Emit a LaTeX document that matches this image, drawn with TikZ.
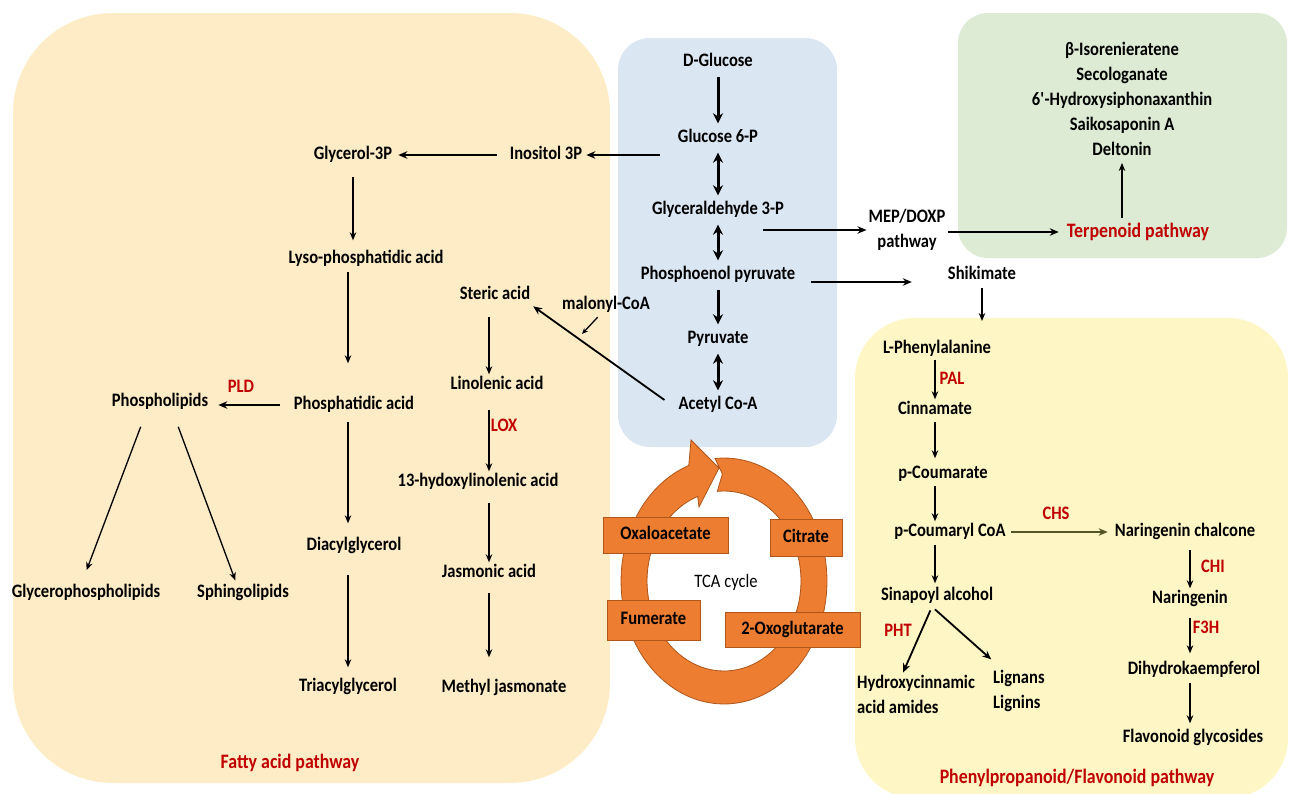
\documentclass[tikz,border=0pt]{standalone}
\usepackage{fontspec}
\setmainfont{Carlito}[FakeStretch=0.87]
\usetikzlibrary{arrows.meta, calc, positioning}
\definecolor{fattyfill}{RGB}{253,236,197}
\definecolor{glycofill}{RGB}{219,230,243}
\definecolor{terpfill}{RGB}{221,235,212}
\definecolor{phenylfill}{RGB}{254,246,196}
\definecolor{enzred}{RGB}{192,0,0}
\definecolor{tcaorange}{RGB}{237,125,49}
\definecolor{tcaedge}{RGB}{175,85,25}
\definecolor{chsolive}{RGB}{84,84,38}

\begin{document}
\begin{tikzpicture}[x=1pt, y=-1pt,
  every node/.style={font=\fontsize{19}{21}\selectfont\bfseries, inner sep=2pt},
  met/.style={text height=13pt, text depth=4pt},
  multi/.style={font=\fontsize{19}{25}\selectfont\bfseries},
  enz/.style={met, text=enzred},
  pathtitle/.style={text=enzred, font=\fontsize{20.5}{23}\selectfont\bfseries},
  arr/.style={-{Stealth[length=8pt, width=6.5pt]}, line width=1.3pt},
  midarr/.style={-{Stealth[length=9pt, width=7.5pt]}, line width=1.8pt},
  bigarr/.style={-{Stealth[length=10pt, width=10pt]}, line width=3pt, shorten <=4pt, shorten >=4pt},
  twoway/.style={bigarr, {Stealth[length=10pt, width=10pt]}-{Stealth[length=10pt, width=10pt]}},
  tcabox/.style={met, fill=tcaorange, draw=tcaedge, line width=0.6pt, inner sep=0pt}
]
\useasboundingbox (0,0) rectangle (1290,793);

% Background panels
\fill[fattyfill, rounded corners=100pt] (13,13) rectangle (610,783);
\fill[glycofill, rounded corners=32pt] (618,38) rectangle (837,447);
\fill[terpfill, rounded corners=30pt] (958,13) rectangle (1287,258);
\fill[phenylfill, rounded corners=60pt] (855,318) rectangle (1288,798);

% TCA cycle
\fill[tcaorange, draw=tcaedge, line width=0.8pt]
  plot[domain=-95:250, samples=90] ({724+103*cos(\x)}, {581+123*sin(\x)})
  -- (691,440) -- (719,468) -- (699,507)
  -- plot[domain=250:-95, samples=90] ({724+77*cos(\x)}, {581+90*sin(\x)})
  -- (722.4,474) -- cycle;
\node[tcabox, minimum width=125pt, minimum height=36pt] (oxa) at (665.5,535) {Oxaloacetate};
\node[tcabox, minimum width=72pt, minimum height=37pt] (cit) at (806,538) {Citrate};
\node[tcabox, minimum width=93pt, minimum height=40pt] (fum) at (653.5,620) {Fumerate};
\node[tcabox, minimum width=135pt, minimum height=35pt] (oxg) at (792.5,629.5) {2-Oxoglutarate};
\node[font=\fontsize{19}{21}\selectfont] (tca) at (726,582) {TCA cycle};

% Glycolysis
\node[met] (glc) at (718,62) {D-Glucose};
\node[met] (g6p) at (718,138) {Glucose 6-P};
\node[met] (gap) at (718,210) {Glyceraldehyde 3-P};
\node[met] (pep) at (718,275) {Phosphoenol pyruvate};
\node[met] (pyr) at (718,339) {Pyruvate};
\node[met] (aca) at (718,405) {Acetyl Co-A};

% Fatty acid pathway
\node[met] (ino) at (546,155) {Inositol 3P};
\node[met] (g3p) at (353,155) {Glycerol-3P};
\node[met] (lpa) at (366,259) {Lyso-phosphatidic acid};
\node[met] (pa) at (354,405) {Phosphatidic acid};
\node[met] (phl) at (160,402) {Phospholipids};
\node[met] (gpl) at (86,593) {Glycerophospholipids};
\node[met] (sph) at (243,593) {Sphingolipids};
\node[met] (dag) at (354,546) {Diacylglycerol};
\node[met] (tag) at (348,687) {Triacylglycerol};
\node[met] (ste) at (495,295) {Steric acid};
\node[met] (lin) at (497,385) {Linolenic acid};
\node[met] (hyd) at (478,482) {13-hydoxylinolenic acid};
\node[met] (jas) at (489,573) {Jasmonic acid};
\node[met] (mej) at (504,688) {Methyl jasmonate};
\node[met] (mal) at (606,305) {malonyl-CoA};
\coordinate (malend) at (582,334);
\node[enz] (pld) at (241,388) {PLD};
\node[enz] (lox) at (504,427) {LOX};
\node[pathtitle] (fatty) at (290,763) {Fatty acid pathway};

% Terpenoid pathway
\node[multi, align=center] (terpl) at (1122,99) {β-Isorenieratene\\Secologanate\\6\textquotesingle-Hydroxysiphonaxanthin\\Saikosaponin A\\Deltonin};
\node[pathtitle] (terp) at (1138,232) {Terpenoid pathway};
\node[multi, align=center] (mep) at (907,230) {MEP/DOXP\\pathway};
\node[met] (shik) at (982,275) {Shikimate};
\coordinate (phtop) at (982,321);

% Phenylpropanoid/Flavonoid pathway
\node[met] (phe) at (937,349) {L-Phenylalanine};
\node[met] (cin) at (935,410) {Cinnamate};
\node[met] (pcu) at (943,474) {p-Coumarate};
\node[met] (pco) at (950,532) {p-Coumaryl CoA};
\node[met] (sin) at (937,596) {Sinapoyl alcohol};
\node[multi, align=left, anchor=west] (hca) at (855,694) {Hydroxycinnamic\\acid amides};
\node[multi, align=left, anchor=west] (lig) at (991,691) {Lignans\\Lignins};
\node[met] (nch) at (1185,532) {Naringenin chalcone};
\node[met] (nar) at (1190,599) {Naringenin};
\node[met] (dhk) at (1194,670) {Dihydrokaempferol};
\node[met] (flg) at (1193,738) {Flavonoid glycosides};
\node[enz] (pal) at (952,380) {PAL};
\node[enz] (chs) at (1056,515) {CHS};
\node[enz] (pht) at (898,632) {PHT};
\node[enz] (chi) at (1213,568) {CHI};
\node[enz] (f3h) at (1206,629) {F3H};
\node[pathtitle] (phenyl) at (1077,778) {Phenylpropanoid/Flavonoid pathway};

% Glycolysis arrows
\draw[bigarr] (glc) -- (g6p);
\draw[twoway] (g6p) -- (gap);
\draw[twoway] (gap) -- (pep);
\draw[bigarr] (pep) -- (pyr);
\draw[twoway] (pyr) -- (aca);

% Fatty acid arrows
\draw[midarr, shorten >=2pt] ($(g6p.west |- ino.east)+(-16,0)$) -- (ino.east);
\draw[midarr, shorten <=11pt, shorten >=4pt] (ino.west) -- (g3p.east);
\draw[arr, shorten <=11pt, shorten >=8pt] (g3p.south) -- (g3p.south |- lpa.north);
\draw[arr, shorten <=2pt, shorten >=31pt] (lpa.south -| tag) -- (pa.north -| tag);
\draw[arr, shorten <=6pt, shorten >=12pt] (pa.south -| tag) -- (dag.north -| tag);
\draw[arr, shorten <=18pt, shorten >=9pt] (dag.south -| tag) -- (tag.north);
\draw[midarr, shorten <=12pt, shorten >=8pt] (pa.west) -- (pa.west -| phl.east);
\draw[arr, shorten <=15pt, shorten >=13pt] ([xshift=-14pt]phl.south) -- ([xshift=-4pt]gpl.north);
\draw[arr, shorten <=15pt, shorten >=2pt] ([xshift=13pt]phl.south) -- ([xshift=-7pt]sph.north);
\draw[arr, shorten <=11pt] (ste.south -| jas) -- (lin.north -| jas);
\draw[arr, shorten <=14pt] (lin.south -| jas) -- (hyd.north -| jas);
\draw[arr, shorten <=10pt] (hyd.south -| jas) -- (jas.north);
\draw[arr, shorten <=9pt, shorten >=20pt] (jas.south) -- (jas.south |- mej.north);
\draw[midarr, shorten >=1pt] ($(aca.west)+(-12,-5)$) -- (ste.south east);
\draw[arr, -{Stealth[length=6pt, width=5pt]}, shorten <=2pt] ([xshift=-7pt]mal.south) -- (malend);

% Branches to terpenoids and shikimate
\draw[midarr] ($(gap.east |- mep.west)+(-23,0)$) -- (mep.west);
\draw[midarr, shorten >=6pt] (mep.east |- terp.west) -- (terp.west);
\draw[arr, shorten <=3pt, shorten >=5pt] (terpl.south |- terp.north) -- (terpl.south);
\draw[midarr, shorten <=14pt, shorten >=34pt] ($(pep.east)+(0,7)$) -- ($(shik.west)+(0,7)$);
\draw[arr, shorten <=2pt] (shik.south) -- (phtop);

% Phenylpropanoid arrows
\draw[arr] (phe.south -| cin) -- (cin.north);
\draw[arr, shorten <=1pt, shorten >=5pt] (cin.south) -- (cin.south |- pcu.north);
\draw[arr, shorten <=1pt] (cin.south |- pcu.south) -- (cin.south |- pco.north);
\draw[arr, shorten <=2pt, shorten >=2pt] (cin.south |- pco.south) -- (cin.south |- sin.north);
\draw[midarr, draw=chsolive, shorten <=3pt, shorten >=5pt] (pco.east) -- (nch.west);
\draw[midarr, shorten <=4pt] ([xshift=-5pt]sin.south) -- ([xshift=-13pt]hca.north);
\draw[midarr, shorten <=4pt, shorten >=13pt] ([xshift=-5pt]sin.south) -- ([xshift=-18pt]lig.north);
\draw[arr, shorten <=7pt] (nch.south -| nar) -- (nar.north);
\draw[arr, shorten <=8pt, shorten >=6pt] (nar.south) -- (nar.south |- dhk.north);
\draw[arr, shorten <=2pt, shorten >=4pt] (nar.south |- dhk.south) -- (nar.south |- flg.north);
\end{tikzpicture}
\end{document}
